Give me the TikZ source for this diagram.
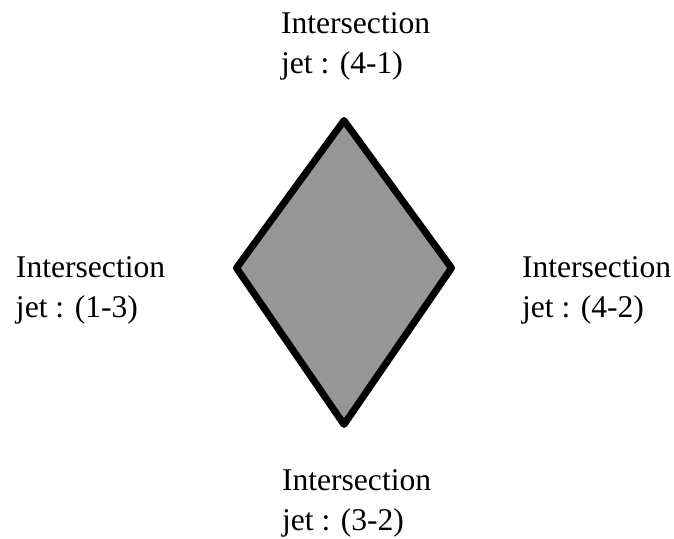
\documentclass[tikz,border=0pt]{standalone}
\usepackage{fontspec}
\setmainfont{Liberation Serif}
\definecolor{diamondgray}{RGB}{150,150,150}
\begin{document}
\begin{tikzpicture}[x=1pt,y=1pt,
  label/.style={anchor=base west, align=left, inner sep=0pt, outer sep=0pt,
    font=\fontsize{31.6}{40}\selectfont},
  diamondline/.style={draw=black, line width=7pt, line join=round, fill=diamondgray}]
\useasboundingbox (0,0) rectangle (674,-538);
\coordinate (T) at (344,-120.5);
\coordinate (L) at (236.5,-268);
\coordinate (R) at (451.5,-268);
\coordinate (B) at (344,-424.5);
\draw[diamondline] (T) -- (R) -- (B) -- (L) -- cycle;
\node[label] (top) at (281,-73) {Intersection\\jet : (4-1)};
\node[label] (left) at (16,-317) {Intersection\\jet : (1-3)};
\node[label] (right) at (522,-317) {Intersection\\jet : (4-2)};
\node[label] (bottom) at (282,-530) {Intersection\\jet : (3-2)};
\end{tikzpicture}
\end{document}
